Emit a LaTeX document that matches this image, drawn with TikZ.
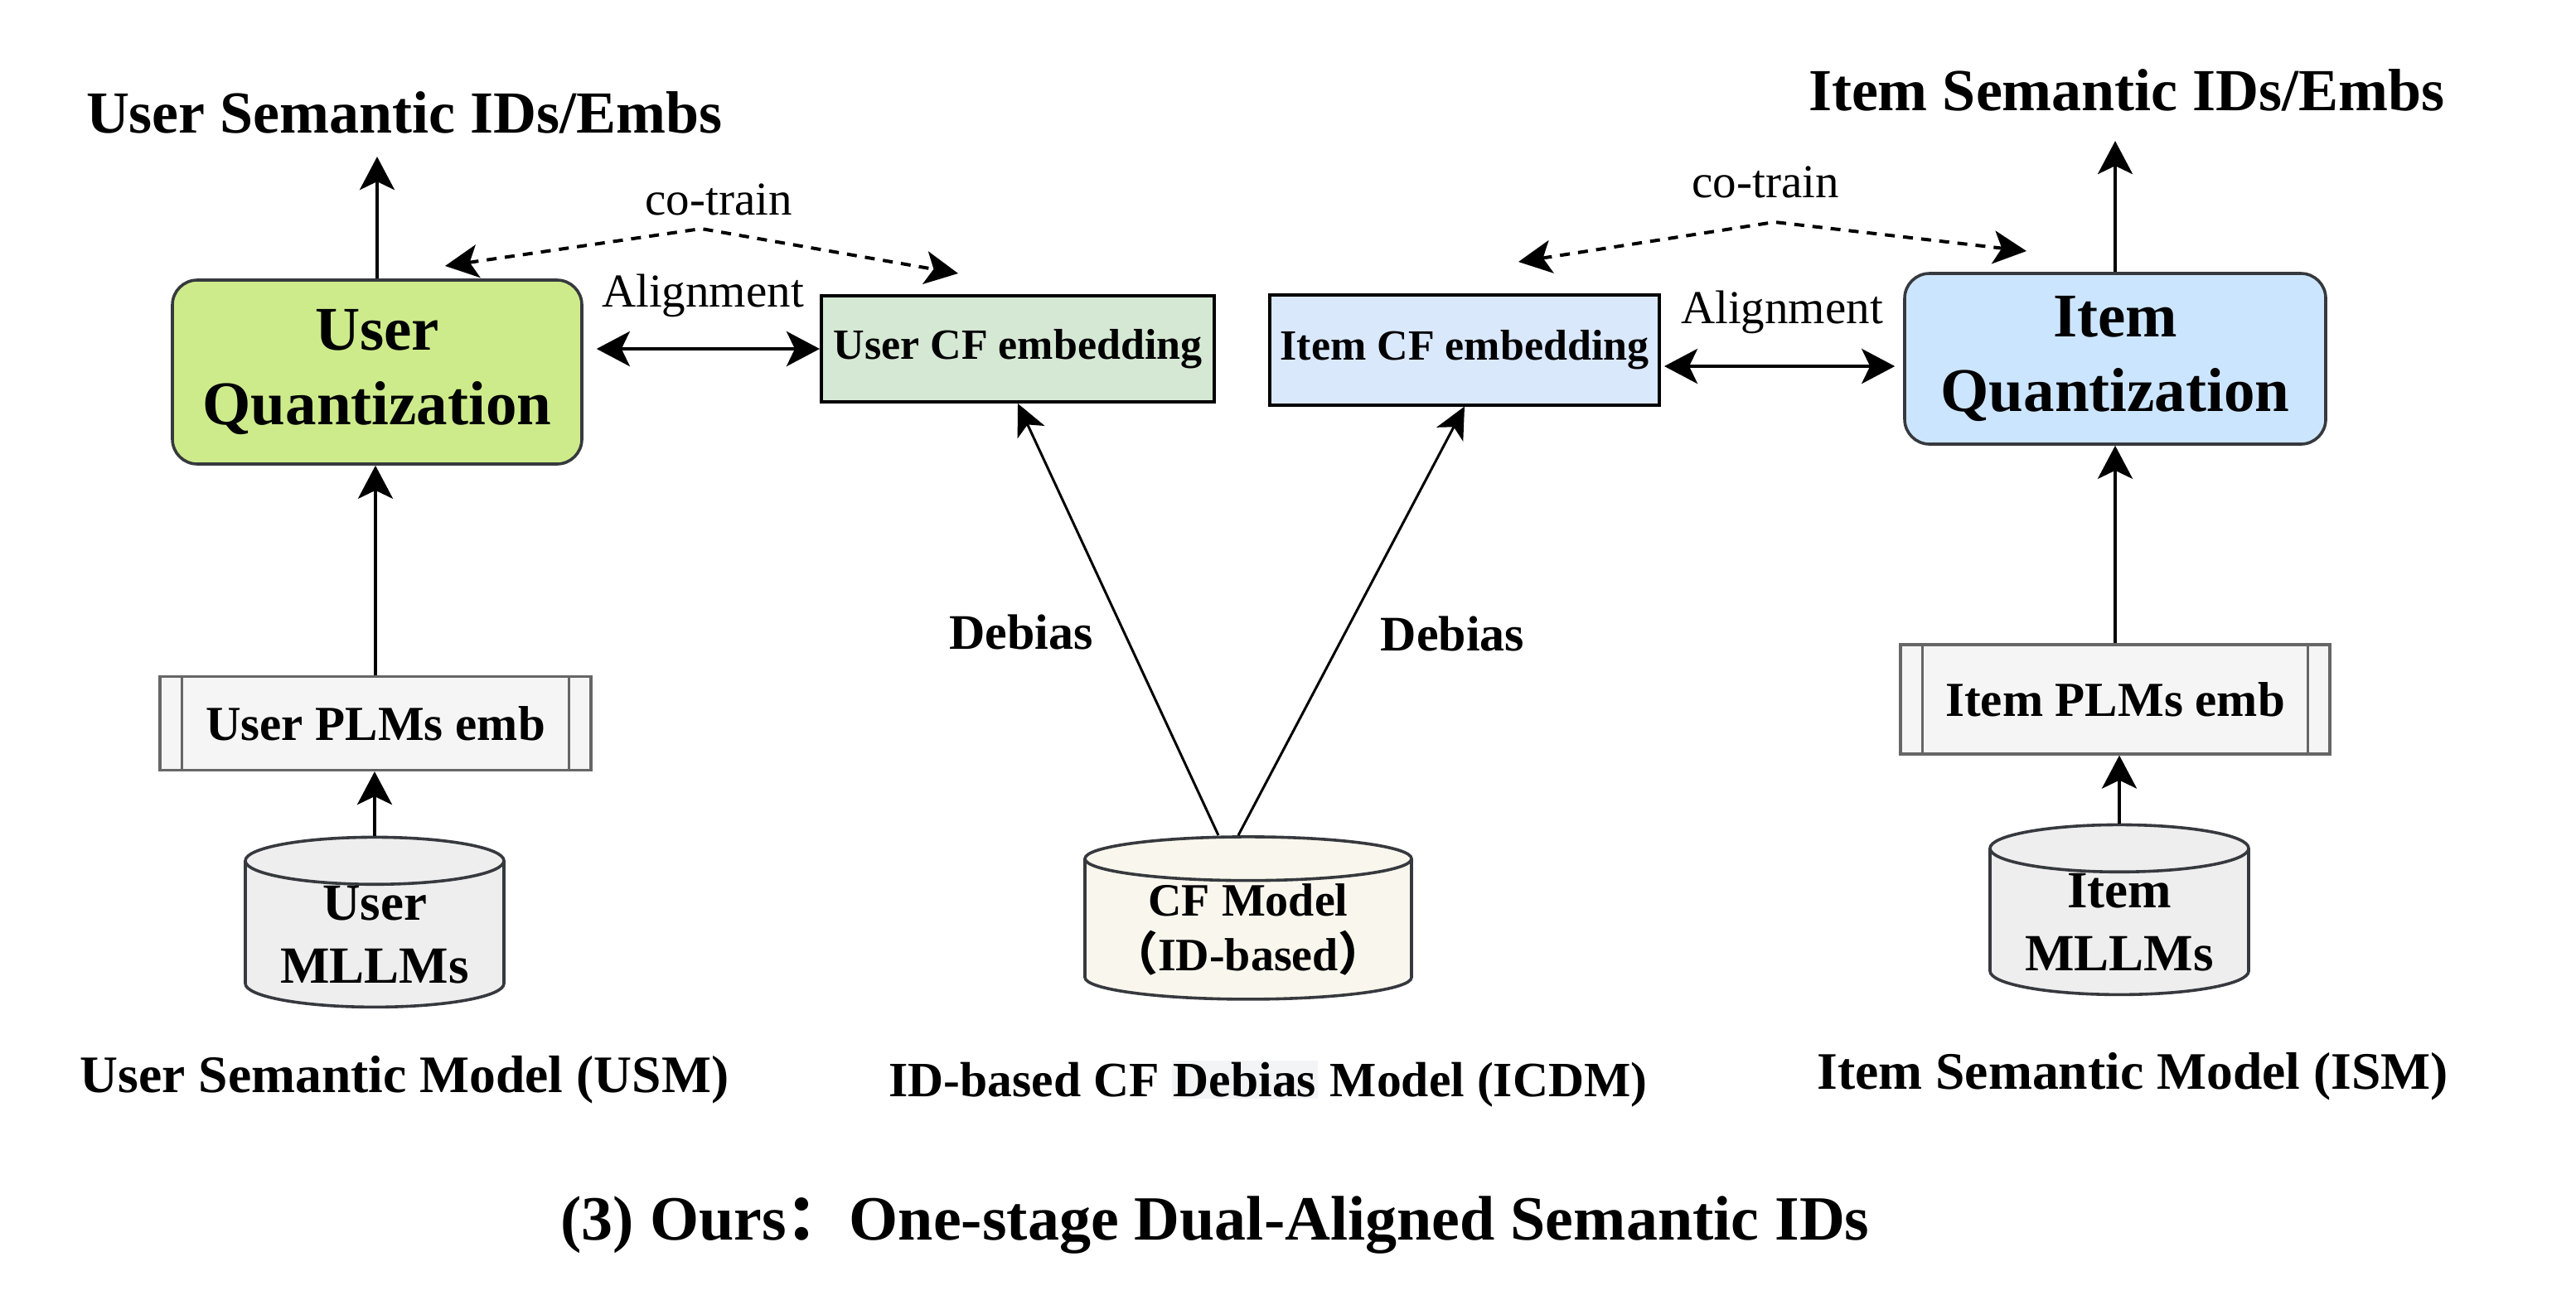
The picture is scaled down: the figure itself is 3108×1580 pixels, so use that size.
\documentclass[tikz,border=0pt]{standalone}
\usepackage{fontspec}
\setmainfont{Liberation Serif}
\newfontfamily\cjk{Noto Sans CJK SC}
\usetikzlibrary{arrows.meta,shapes.geometric}
\definecolor{edge}{HTML}{36393D}
\definecolor{ugreen}{HTML}{CDEB8B}
\definecolor{iblue}{HTML}{CCE5FF}
\definecolor{ucfgreen}{HTML}{D5E8D4}
\definecolor{icfblue}{HTML}{DAE8FC}
\definecolor{plmfill}{HTML}{F5F5F5}
\definecolor{plmline}{HTML}{666666}
\definecolor{dbgray}{HTML}{EEEEEE}
\definecolor{cfcream}{HTML}{F9F7ED}
\definecolor{hl}{HTML}{F3F4F6}
\setlength{\fboxsep}{1pt}

\begin{document}
\begin{tikzpicture}[x=0.5pt, y=-0.5pt,
  quant/.style = {draw=edge, line width=1.8pt, rounded corners=15pt, align=center, inner sep=0pt, font=\fontsize{37.5pt}{45pt}\selectfont\bfseries},
  cfemb/.style = {draw, line width=2pt, inner sep=0pt, font=\fontsize{26pt}{30pt}\selectfont\bfseries},
  plm/.style = {draw=plmline, fill=plmfill, line width=1.6pt, minimum width=260pt, inner sep=0pt, font=\fontsize{29.5pt}{34pt}\selectfont\bfseries},
  db/.style = {draw=edge, cylinder, shape border rotate=90, aspect=0.25, line width=1.8pt, align=center, inner sep=0pt},
  toptext/.style = {anchor=base, inner sep=0pt, font=\fontsize{36pt}{42pt}\selectfont\bfseries},
  part/.style = {anchor=base, inner sep=0pt, font=\fontsize{31.8pt}{36pt}\selectfont\bfseries},
  txt/.style = {anchor=base, inner sep=0pt, font=\fontsize{28.5pt}{34pt}\selectfont},
  debtxt/.style = {inner sep=0pt, font=\fontsize{30pt}{34pt}\selectfont\bfseries},
  up/.style = {-{Stealth[length=20pt, width=21pt, inset=5pt]}, line width=2pt},
  twin/.style = {{Stealth[length=20pt, width=21pt, inset=5pt]}-{Stealth[length=20pt, width=21pt, inset=5pt]}, line width=2.3pt},
  cotrain/.style = {{Stealth[length=20pt, width=20pt, inset=5pt]}-{Stealth[length=20pt, width=20pt, inset=5pt]}, dash pattern=on 6pt off 5pt, line width=2pt},
  debias/.style = {-{Stealth[length=19pt, width=18pt, inset=5pt]}, line width=1.5pt}]
\useasboundingbox (0,0) rectangle (3108,1580);

\node[toptext] (1) at (488,160) {User Semantic IDs/Embs};
\node[toptext] (2) at (2566,133) {Item Semantic IDs/Embs};
\node[quant, fill=ugreen, minimum width=247pt, minimum height=111pt] (3) at (455,449) {User\\Quantization};
\node[quant, fill=iblue, minimum width=254pt, minimum height=103pt] (4) at (2552,433) {Item\\Quantization};
\node[cfemb, fill=ucfgreen, minimum width=237pt, minimum height=64pt] (5) at (1228,421) {User CF embedding};
\node[cfemb, fill=icfblue, minimum width=235pt, minimum height=66.5pt] (6) at (1767,422) {Item CF embedding};
\node[plm, minimum height=56.5pt] (7) at (453,873) {User PLMs emb};
\node[plm, minimum width=259pt, minimum height=66pt] (8) at (2552,844) {Item PLMs emb};
\node[db, fill=dbgray, minimum width=156pt, minimum height=102.5pt, font=\fontsize{31.5pt}{38pt}\selectfont\bfseries] (9) at (452,1128) {User\\MLLMs};
\node[db, fill=dbgray, minimum width=156pt, minimum height=97pt, font=\fontsize{31.5pt}{38pt}\selectfont\bfseries] (10) at (2557,1113) {Item\\MLLMs};
\node[db, fill=cfcream, aspect=0.16, minimum width=197pt, minimum height=98pt, font=\fontsize{28pt}{33pt}\selectfont\bfseries] (11) at (1506,1122) {CF Model\\{\cjk （}ID-based{\cjk ）}};
\node[part] (12) at (488,1318) {User Semantic Model (USM)};
\node[part, font=\fontsize{29.8pt}{36pt}\selectfont\bfseries] (13) at (1530,1323) {ID-based CF \colorbox{hl}{Debias} Model (ICDM)};
\node[part] (14) at (2573,1314) {Item Semantic Model (ISM)};
\node[anchor=base, inner sep=0pt, font=\fontsize{38pt}{44pt}\selectfont\bfseries] (15) at (1466,1496) {(3) Ours{\cjk ：}One-stage Dual-Aligned Semantic IDs};
\node[txt] (16) at (867,259) {co-train};
\node[txt] (17) at (2130,238) {co-train};
\node[txt] (18) at (848,370) {Alignment};
\node[txt] (19) at (2150,390) {Alignment};

\coordinate (a1) at (537,321);
\coordinate (a2) at (846,276);
\coordinate (a3) at (1156,330);
\coordinate (b1) at (1832,316);
\coordinate (b2) at (2141,268);
\coordinate (b3) at (2445,303);
\coordinate (r) at ([yshift=-10pt]6.east);

\draw[up, shorten >=14pt] (3.north) -- (3.north |- 1.south);
\draw[up, shorten >=18pt] (4.north) -- (4.north |- 2.south);
\draw[up] (7.north) -- (7.north |- 3.south);
\draw[up] (9.north) -- (9.north |- 7.south);
\draw[up] (8.north) -- (8.north |- 4.south);
\draw[up] (10.north) -- (10.north |- 8.south);
\draw[plmline, line width=1.6pt] ([xshift=14pt]7.north west) -- ([xshift=14pt]7.south west);
\draw[plmline, line width=1.6pt] ([xshift=-14pt]7.north east) -- ([xshift=-14pt]7.south east);
\draw[plmline, line width=1.6pt] ([xshift=14pt]8.north west) -- ([xshift=14pt]8.south west);
\draw[plmline, line width=1.6pt] ([xshift=-14pt]8.north east) -- ([xshift=-14pt]8.south east);

\draw[debias] ([xshift=-18pt]11.north) -- node[pos=0.47, left=18pt, debtxt] {Debias} (5.south);
\draw[debias] ([xshift=-6pt]11.north) -- node[pos=0.47, right=21pt, debtxt] {Debias} (6.south);
\draw[twin, shorten <=8pt] (3.east |- 5.west) -- (5.west);
\draw[twin, shorten <=2pt, shorten >=5pt] (r) -- (r -| 4.west);
\draw[cotrain] (a1) -- (a2) -- (a3);
\draw[cotrain] (b1) -- (b2) -- (b3);
\end{tikzpicture}
\end{document}
